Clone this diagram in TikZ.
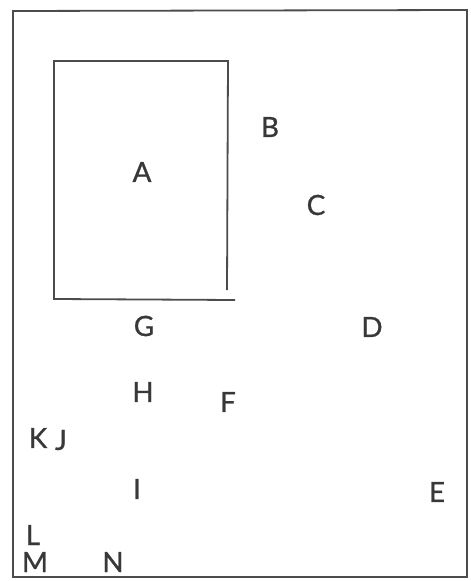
\documentclass[tikz,border=0pt]{standalone}
\usepackage{fontspec}
\setmainfont{Lato}
\newfontfamily\lblfont{Lato}[FakeBold=0.9]
\begin{document}
\begin{tikzpicture}[x=1bp,y=-1bp,
  frameline/.style={draw=black!70,line width=1.8bp},
  lbl/.style={inner sep=0pt,text=black!78,font=\lblfont\fontsize{28}{28}\selectfont}]
\useasboundingbox (0,0) rectangle (471,581);
\fill[white] (0,0) rectangle (471,581);
% outer frame
\draw[frameline] (13,11) -- (467,10) -- (467,577) -- (13,577) -- cycle;
% room A
\coordinate (a1) at (54,61);
\coordinate (a2) at (228,61);
\coordinate (a3) at (227,290);
\coordinate (a4) at (54,299);
\coordinate (a5) at (235,300);
\draw[frameline] (a3) -- (a2) -- (a1) -- (a4) -- (a5);
% labels
\node[lbl] (A) at (142,172) {A};
\node[lbl] (B) at (270,127) {B};
\node[lbl] (C) at (316,205) {C};
\node[lbl] (D) at (372,327) {D};
\node[lbl] (E) at (437,492) {E};
\node[lbl] (F) at (228,402) {F};
\node[lbl] (G) at (144,326) {G};
\node[lbl] (H) at (143,392) {H};
\node[lbl] (I) at (137,489) {I};
\node[lbl] (K) at (38,438) {K};
\node[lbl] (J) at (61,440) {J};
\node[lbl] (L) at (33,535) {L};
\node[lbl] (M) at (35,562) {M};
\node[lbl] (N) at (113,562) {N};
\end{tikzpicture}
\end{document}
